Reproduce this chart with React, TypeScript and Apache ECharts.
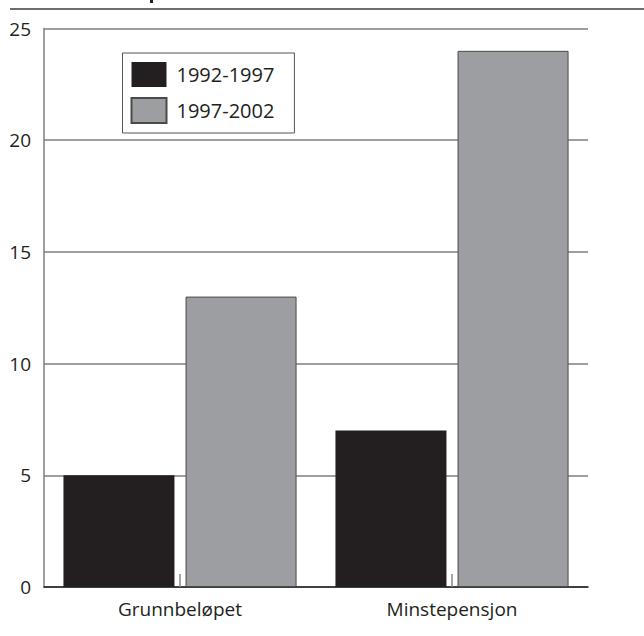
import React, { useEffect, useRef } from "react";
import * as echarts from "echarts";

const categories = ["Grunnbeløpet", "Minstepensjon"];
const seriesNames = ["1992-1997", "1997-2002"];
const values1992 = [5, 7];
const values1997 = [13, 24];
const yTicks = { min: 0, max: 25, interval: 5 };

const FONT = "'Open Sans', 'Noto Sans', sans-serif";
const TEXT = "#231f20";

export default function App() {
  const ref = useRef<HTMLDivElement>(null);
  useEffect(() => {
    if (!ref.current) return;
    const chart = echarts.init(ref.current, undefined, { renderer: "svg" });
    chart.setOption({
      animation: false,
      backgroundColor: "#ffffff",
      textStyle: { fontFamily: FONT },
      grid: { left: 44, right: 56, top: 28.5, bottom: 49, containLabel: false },
      legend: {
        orient: "vertical",
        left: 122.5,
        top: 53,
        padding: [9, 20, 9, 8],
        itemGap: 10,
        itemWidth: 35,
        itemHeight: 25,
        icon: "rect",
        borderColor: "#555555",
        borderWidth: 1,
        textStyle: { fontFamily: FONT, fontSize: 20, color: TEXT, padding: [0, 0, 0, 5] },
        data: seriesNames,
      },
      xAxis: {
        type: "category",
        data: categories,
        boundaryGap: true,
        axisLine: { show: true, lineStyle: { color: TEXT, width: 1.5 } },
        axisTick: { show: true, inside: true, alignWithLabel: true, length: 13, lineStyle: { color: "#8a8a8a", width: 1.5 } },
        axisLabel: { fontFamily: FONT, fontSize: 19, color: TEXT, margin: 12 },
        splitLine: { show: false },
      },
      yAxis: {
        type: "value",
        min: yTicks.min,
        max: yTicks.max,
        interval: yTicks.interval,
        axisLine: { show: true, lineStyle: { color: "#7f7f7f", width: 1.5 } },
        axisTick: { show: false },
        axisLabel: { fontFamily: FONT, fontSize: 19, color: TEXT, margin: 13 },
        splitLine: { show: true, lineStyle: { color: "#7f7f7f", width: 1.5 } },
      },
      series: [
        {
          name: seriesNames[0],
          type: "bar",
          data: values1992,
          barWidth: 111,
          barGap: "10%",
          itemStyle: { color: "#231f20" },
        },
        {
          name: seriesNames[1],
          type: "bar",
          data: values1997,
          barWidth: 111,
          itemStyle: { color: "#9d9ea2", borderColor: "#4a4a4a", borderWidth: 1 },
        },
      ],
      graphic: [
        {
          type: "line",
          shape: { x1: 10, y1: 9, x2: 644, y2: 9 },
          style: { stroke: "#6d6d6d", lineWidth: 2 },
          silent: true,
        },
        {
          type: "rect",
          shape: { x: 150, y: 0, width: 3, height: 3 },
          style: { fill: "#231f20" },
          silent: true,
        },
      ],
    });
    return () => chart.dispose();
  }, []);
  return (
    <div
      ref={ref}
      style={{ position: "fixed", left: 0, top: 0, width: 644, height: 636 }}
    />
  );
}
